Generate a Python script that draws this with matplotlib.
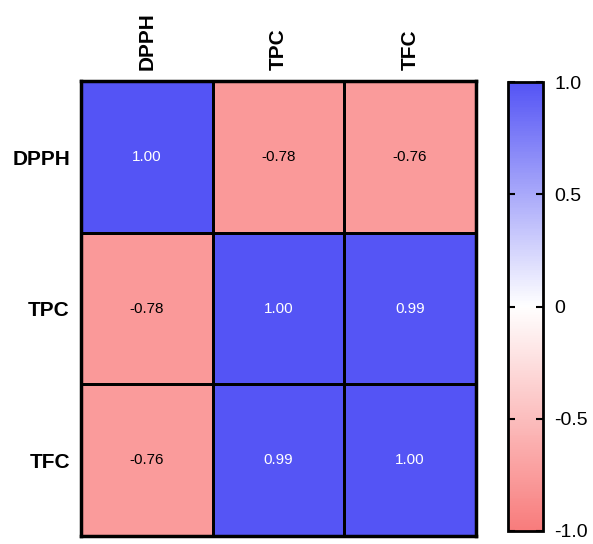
import numpy as np
import matplotlib
matplotlib.use("Agg")
import matplotlib.pyplot as plt
from matplotlib.colors import LinearSegmentedColormap

plt.rcParams['font.family'] = ['Liberation Sans', 'DejaVu Sans']

# Correlation data
labels = ['DPPH', 'TPC', 'TFC']
corr = np.array([
    [1.00, -0.78, -0.76],
    [-0.78, 1.00, 0.99],
    [-0.76, 0.99, 1.00],
])
cbar_ticks = [-1.0, -0.5, 0, 0.5, 1.0]
cbar_ticklabels = ['-1.0', '-0.5', '0', '0.5', '1.0']

cmap = LinearSegmentedColormap.from_list('rwb', ['#F87C7C', '#FFFFFF', '#5454F5'])

fig = plt.figure(figsize=(5.93, 5.44), dpi=100)
ax = fig.add_axes([0.1366, 0.0147, 0.666, 0.836])
cax = fig.add_axes([0.8567, 0.024, 0.059, 0.825])

n = len(labels)
mesh = ax.pcolormesh(np.arange(n + 1), np.arange(n + 1), corr, cmap=cmap,
                     vmin=-1, vmax=1, edgecolor='black', linewidth=0.8)
ax.set_xlim(0, n)
ax.set_ylim(n, 0)

for i in range(n):
    for j in range(n):
        v = corr[i, j]
        ax.text(j + 0.5, i + 0.5, f'{v:.2f}', ha='center', va='center',
                fontsize=11, color='white' if v > 0.5 else 'black')

ax.set_xticks(np.arange(n) + 0.5)
ax.set_yticks(np.arange(n) + 0.5)
ax.set_xticklabels(labels, rotation=90, fontsize=15, fontweight='bold')
ax.set_yticklabels(labels, fontsize=15, fontweight='bold')
ax.xaxis.tick_top()
ax.tick_params(length=0, pad=8)
for s in ax.spines.values():
    s.set_linewidth(2.5)

cb = fig.colorbar(mesh, cax=cax, ticks=cbar_ticks)
cb.set_ticklabels(cbar_ticklabels)
cb.outline.set_linewidth(2)
cax.tick_params(axis='y', direction='in', length=5, width=1.5, left=True,
                right=True, labelsize=14, pad=8)
cax.yaxis.set_ticks_position('both')

fig.savefig('out.png', dpi=100)
